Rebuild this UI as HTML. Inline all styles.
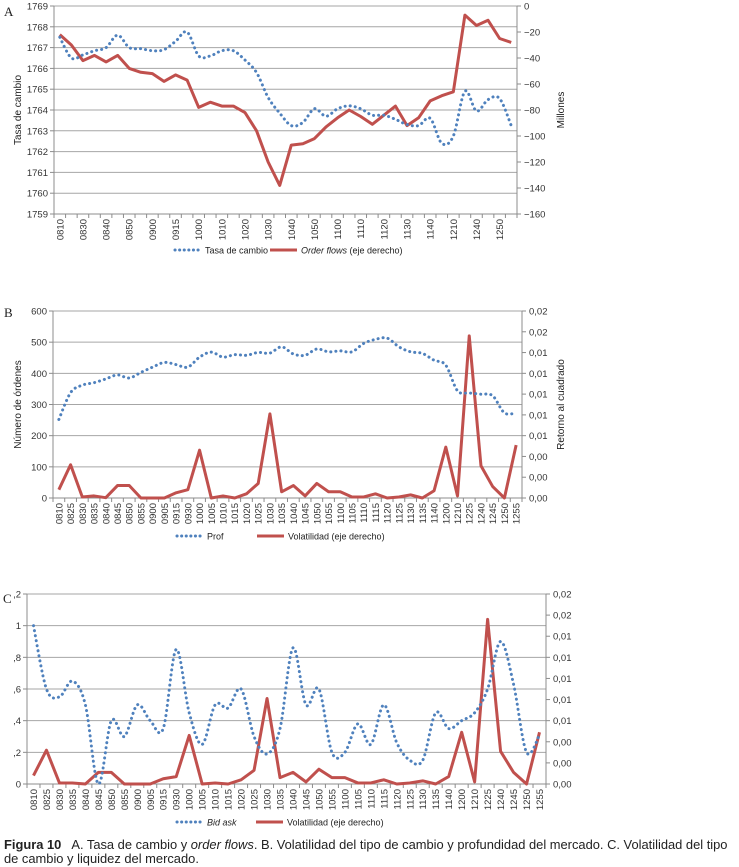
<!DOCTYPE html>
<html><head><meta charset="utf-8"><style>
html,body{margin:0;padding:0;background:#fff;}
svg{display:block;font-family:"Liberation Sans",Arial,sans-serif;}
.cap{position:absolute;left:4px;top:838px;font-family:"Liberation Sans",sans-serif;font-size:12.9px;color:#222;line-height:14px;width:735px;white-space:nowrap;}
</style></head><body>
<svg id="fig" width="739" height="867" viewBox="0 0 739 867"></svg>
<div class="cap"><b>Figura 10</b>&nbsp;&nbsp; A. Tasa de cambio y <i>order flows</i>. B. Volatilidad del tipo de cambio y profundidad del mercado. C. Volatilidad del tipo<br>de cambio y liquidez del mercado.</div>
<script>
const categories = ["0810","0825","0830","0835","0840","0845","0850","0855","0900","0905","0915","0930","1000","1005","1010","1015","1020","1025","1030","1035","1040","1045","1050","1055","1100","1105","1110","1115","1120","1125","1130","1135","1140","1200","1210","1225","1240","1245","1250","1255"];
const tasaCambio = [1767.5,1766.5,1766.65,1766.85,1767.0,1767.6,1767.0,1766.95,1766.85,1766.9,1767.3,1767.75,1766.6,1766.6,1766.85,1766.85,1766.4,1765.8,1764.6,1763.85,1763.25,1763.4,1764.06,1763.7,1764.06,1764.2,1764.06,1763.75,1763.75,1763.55,1763.3,1763.25,1763.6,1762.4,1762.75,1764.9,1763.95,1764.5,1764.55,1763.25];
const orderFlows = [-22,-30,-42,-38,-43,-38,-48,-51,-52,-58,-53,-57,-78,-74,-77,-77,-82,-96,-120,-138,-107,-106,-102,-93,-86,-80,-85,-91,-84,-77,-92,-86,-73,-69,-66,-7,-15,-11,-25,-28];
const prof = [252,338,362,370,382,395,385,403,420,435,428,420,452,468,452,460,458,467,465,485,462,458,478,469,472,469,496,509,513,485,469,464,442,426,344,337,333,328,273,273];
const volatilidad = [0.0008,0.0032,0.0001,0.0002,0.00003,0.0012,0.0012,0,0,0,0.0005,0.0008,0.0046,0,0.0002,0,0.0004,0.0014,0.0081,0.0006,0.0012,0.0002,0.0014,0.0006,0.0006,0.0001,0.0001,0.0004,0,0.0001,0.0003,0,0.0007,0.0049,0.0002,0.0156,0.0031,0.0011,0,0.0051];
const bidAsk = [1.0,0.6,0.55,0.65,0.5,0.0,0.4,0.3,0.5,0.4,0.35,0.85,0.45,0.25,0.5,0.48,0.6,0.3,0.19,0.35,0.86,0.5,0.6,0.2,0.2,0.38,0.25,0.5,0.26,0.15,0.15,0.45,0.35,0.4,0.45,0.6,0.9,0.63,0.2,0.31];
const volatilidadC = [0.0008,0.0032,0.0001,0.0001,0,0.0011,0.0011,0,0,0,0.0005,0.0007,0.0046,0,0.0001,0,0.0004,0.0013,0.0081,0.0006,0.0011,0.0002,0.0014,0.0006,0.0006,0.0001,0.0001,0.0004,0,0.0001,0.0003,0,0.0007,0.0049,0.0002,0.0156,0.0031,0.0011,0,0.0049];
const ticksA_left = [1759,1760,1761,1762,1763,1764,1765,1766,1767,1768,1769];
const ticksA_right = [-160,-140,-120,-100,-80,-60,-40,-20,0];
const ticksB_left = [0,100,200,300,400,500,600];
const ticksVol = [0,0.002,0.004,0.006,0.008,0.010,0.012,0.014,0.016,0.018];
const ticksC_left = [0,0.2,0.4,0.6,0.8,1.0,1.2];
const labelsC_left = ["0",",2",",4",",6",",8","1",",2"];

const NS="http://www.w3.org/2000/svg";
const svg=document.getElementById('fig');
const BLUE="#4f81bd", RED="#c0504d", GRID="#a6a6a6", AX="#8c8c8c";
function mk(tag,attrs,parent){const e=document.createElementNS(NS,tag);for(const k in attrs)e.setAttribute(k,attrs[k]);(parent||svg).appendChild(e);return e;}
function txt(s,attrs,parent){const e=mk('text',attrs,parent);e.textContent=s;return e;}
function fmtVol(v){return (Math.round(v*100)/100).toFixed(2).replace('.',',');}
function smoothPath(pts){let d=`M${pts[0][0]},${pts[0][1]}`;for(let i=0;i<pts.length-1;i++){const p0=pts[Math.max(0,i-1)],p1=pts[i],p2=pts[i+1],p3=pts[Math.min(pts.length-1,i+2)];const c1x=p1[0]+(p2[0]-p0[0])/6,c1y=p1[1]+(p2[1]-p0[1])/6,c2x=p2[0]-(p3[0]-p1[0])/6,c2y=p2[1]-(p3[1]-p1[1])/6;d+=` C${c1x},${c1y} ${c2x},${c2y} ${p2[0]},${p2[1]}`;}return d;}

function chart(c){
  const g=mk('g',{});
  
  
  const n=categories.length, cw=(c.R-c.L)/n;
  const x=i=>c.L+cw*(i+0.5);
  const yl=v=>c.B-(v-c.lmin)/(c.lmax-c.lmin)*(c.B-c.T);
  const yr=v=>c.B-(v-c.rmin)/(c.rmax-c.rmin)*(c.B-c.T);
  c.lticks.forEach((t,k)=>{
    const y=yl(t);
    const gl=mk('line',{x1:c.L,x2:c.R,y1:y,y2:y,stroke:GRID,'stroke-width':1},g);
    
    
    mk('line',{x1:c.L-4,x2:c.L,y1:y,y2:y,stroke:AX},g);
    const lt=txt(c.llabels?c.llabels[k]:String(t),{x:c.L-6,y:y+3.5,'font-size':9.5,'text-anchor':'end',fill:'#333'},g);
    
    
  });
  c.rticks.forEach(t=>{
    const y=yr(t);
    mk('line',{x1:c.R,x2:c.R+4,y1:y,y2:y,stroke:AX},g);
    const rt=txt(c.rfmt(t),{x:c.R+7,y:y+3.5,'font-size':9.5,fill:'#333'},g);
    
    
  });
  mk('line',{x1:c.L,x2:c.L,y1:c.T,y2:c.B,stroke:AX},g);
  mk('line',{x1:c.R,x2:c.R,y1:c.T,y2:c.B,stroke:AX},g);
  mk('line',{x1:c.L,x2:c.R,y1:c.B,y2:c.B,stroke:AX},g);
  for(let i=0;i<=n;i++){const xx=c.L+cw*i;mk('line',{x1:xx,x2:xx,y1:c.B,y2:c.B+4,stroke:AX},g);}
  categories.forEach((s,i)=>{
    if(i%c.every!==0)return;
    const xx=x(i)+3.5, yy=c.B+5;
    const t=txt(s,{x:xx,y:yy,'font-size':9.5,'text-anchor':'end',fill:'#333',transform:`rotate(-90 ${xx} ${yy})`},g);
    
    
  });
  const ptsB=c.blue.map((v,i)=>[x(i),c.blueAxis==='r'?yr(v):yl(v)]);
  const ptsR=c.red.map((v,i)=>[x(i),c.redAxis==='r'?yr(v):yl(v)]);
  const rp=mk('path',{d:'M'+ptsR.map(p=>p.join(',')).join(' L'),fill:'none',stroke:RED,'stroke-width':3,'stroke-linejoin':'round'},g);
  
  
  const bp=mk('path',{d:smoothPath(ptsB),fill:'none',stroke:BLUE,'stroke-width':3,'stroke-dasharray':'0.1 5','stroke-linecap':'round'},g);
  
  
  if(c.ltitle){const t=txt(c.ltitle,{x:21,y:(c.T+c.B)/2,'font-size':10,'text-anchor':'middle',fill:'#222',transform:`rotate(-90 21 ${(c.T+c.B)/2})`},g);}
  if(c.rtitle){const t=txt(c.rtitle,{x:564,y:(c.T+c.B)/2,'font-size':10,'text-anchor':'middle',fill:'#222',transform:`rotate(-90 564 ${(c.T+c.B)/2})`},g);}
  const pl=txt(c.letter,{x:c.lx,y:c.ly,'font-size':13,fill:'#222','font-family':'Liberation Serif, serif'},g);
  
  
  const lg=mk('g',{},g);
  
  
  const ly=c.legY;
  mk('line',{x1:c.leg[0],x2:c.leg[0]+25,y1:ly,y2:ly,stroke:BLUE,'stroke-width':3,'stroke-dasharray':'0.1 4.5','stroke-linecap':'round'},lg);
  const l1=txt(c.leg1,{x:c.leg[0]+30,y:ly+3.5,'font-size':9,fill:'#222','font-style':c.leg1i?'italic':'normal'},lg);
  
  
  mk('line',{x1:c.leg[1],x2:c.leg[1]+27,y1:ly,y2:ly,stroke:RED,'stroke-width':3},lg);
  const l2=mk('text',{x:c.leg[1]+31,y:ly+3.5,'font-size':9,fill:'#222'},lg);
  
  
  if(c.leg2i){const a=mk('tspan',{'font-style':'italic'},l2);a.textContent=c.leg2i;const b=mk('tspan',{},l2);b.textContent=c.leg2;}else{l2.textContent=c.leg2;}
}

chart({name:'chart-a-exchange-rate',L:54,R:517,T:6,B:214,lmin:1759,lmax:1769,rmin:-160,rmax:0,lticks:ticksA_left,rticks:ticksA_right,rfmt:v=>String(v).replace('-','\u2212'),every:2,blue:tasaCambio,blueAxis:'l',red:orderFlows,redAxis:'r',blueName:'tasa-de-cambio-line',redName:'order-flows-line',ltitle:'Tasa de cambio',rtitle:'Millones',letter:'A',lx:4,ly:16,legY:250,leg:[175,270],leg1:'Tasa de cambio',leg2i:'Order flows',leg2:' (eje derecho)'});
chart({name:'chart-b-depth-volatility',L:53,R:522,T:311,B:498,lmin:0,lmax:600,rmin:0,rmax:0.018,lticks:ticksB_left,rticks:ticksVol,rfmt:fmtVol,every:1,blue:prof,blueAxis:'l',red:volatilidad,redAxis:'r',blueName:'prof-line',redName:'volatilidad-line',ltitle:'Número de órdenes',rtitle:'Retorno al cuadrado',letter:'B',lx:4,ly:317,legY:536,leg:[177,257],leg1:'Prof',leg2:'Volatilidad (eje derecho)'});
chart({name:'chart-c-bidask-volatility',L:27,R:546,T:594,B:784,lmin:0,lmax:1.2,rmin:0,rmax:0.018,lticks:ticksC_left,llabels:labelsC_left,rticks:ticksVol,rfmt:fmtVol,every:1,blue:bidAsk,blueAxis:'l',red:volatilidadC,redAxis:'r',blueName:'bid-ask-line',redName:'volatilidad-c-line',letter:'C',lx:3,ly:603,legY:822,leg:[177,256],leg1:'Bid ask',leg1i:true,leg2:'Volatilidad (eje derecho)'});
</script>
</body></html>
